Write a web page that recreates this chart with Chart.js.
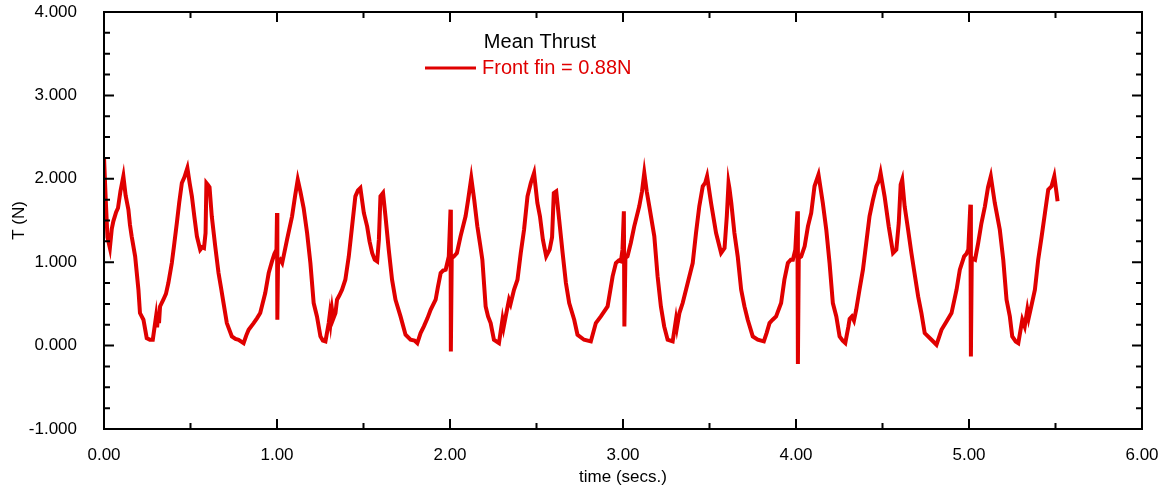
<!DOCTYPE html>
<html>
<head>
<meta charset="utf-8">
<title>Mean Thrust</title>
<script src="https://cdn.jsdelivr.net/npm/chart.js@4.4.1/dist/chart.umd.min.js"></script>
<style>
  html, body { margin: 0; padding: 0; background: #fff; }
  #wrap { width: 1164px; height: 491px; }
</style>
</head>
<body>
<div id="wrap"><canvas id="thrustChart" width="1164" height="491"></canvas></div>
<script>
// ==================== DATA ====================
const timeS = [
  0.000, 0.010, 0.020, 0.034, 0.045, 0.054, 0.070, 0.081, 0.095, 0.112, 0.125, 0.141, 0.150, 0.160, 0.180, 0.199,
  0.208, 0.228, 0.247, 0.265, 0.282, 0.301, 0.307, 0.313, 0.318, 0.324, 0.343, 0.358, 0.372, 0.392, 0.405, 0.421,
  0.435, 0.450, 0.465, 0.482, 0.495, 0.508, 0.522, 0.537, 0.556, 0.567, 0.578, 0.587, 0.592, 0.600, 0.610, 0.623,
  0.643, 0.662, 0.676, 0.691, 0.710, 0.739, 0.760, 0.778, 0.807, 0.822, 0.836, 0.865, 0.885, 0.903, 0.932, 0.952,
  0.971, 0.985, 0.997, 1.000, 1.002, 1.006, 1.019, 1.030, 1.058, 1.087, 1.105, 1.120, 1.135, 1.154, 1.174, 1.193,
  1.212, 1.231, 1.251, 1.265, 1.280, 1.299, 1.305, 1.310, 1.318, 1.325, 1.338, 1.347, 1.360, 1.376, 1.395, 1.415,
  1.434, 1.453, 1.468, 1.482, 1.502, 1.521, 1.535, 1.550, 1.565, 1.579, 1.589, 1.598, 1.613, 1.627, 1.646, 1.665,
  1.685, 1.714, 1.743, 1.772, 1.795, 1.811, 1.830, 1.849, 1.870, 1.888, 1.917, 1.930, 1.946, 1.960, 1.975, 1.993,
  2.003, 2.005, 2.010, 2.023, 2.040, 2.061, 2.090, 2.105, 2.123, 2.140, 2.158, 2.175, 2.187, 2.206, 2.220, 2.235,
  2.254, 2.283, 2.303, 2.310, 2.322, 2.341, 2.350, 2.370, 2.390, 2.409, 2.428, 2.448, 2.467, 2.486, 2.505, 2.520,
  2.537, 2.556, 2.576, 2.590, 2.600, 2.614, 2.631, 2.651, 2.670, 2.689, 2.718, 2.737, 2.775, 2.814, 2.843, 2.872,
  2.911, 2.940, 2.959, 2.975, 2.988, 2.997, 3.005, 3.008, 3.014, 3.026, 3.045, 3.065, 3.094, 3.110, 3.123, 3.137,
  3.152, 3.181, 3.200, 3.219, 3.238, 3.258, 3.287, 3.306, 3.312, 3.326, 3.345, 3.374, 3.403, 3.422, 3.441, 3.461,
  3.475, 3.486, 3.509, 3.538, 3.567, 3.587, 3.600, 3.610, 3.615, 3.626, 3.644, 3.663, 3.683, 3.702, 3.721, 3.750,
  3.779, 3.814, 3.830, 3.847, 3.865, 3.885, 3.914, 3.933, 3.953, 3.970, 3.982, 3.996, 4.008, 4.011, 4.016, 4.030,
  4.050, 4.069, 4.088, 4.107, 4.130, 4.155, 4.175, 4.194, 4.213, 4.233, 4.252, 4.270, 4.285, 4.303, 4.310, 4.323,
  4.335, 4.348, 4.367, 4.387, 4.406, 4.425, 4.445, 4.464, 4.480, 4.489, 4.512, 4.536, 4.561, 4.580, 4.594, 4.605,
  4.614, 4.628, 4.648, 4.667, 4.682, 4.706, 4.725, 4.744, 4.783, 4.812, 4.841, 4.870, 4.899, 4.928, 4.947, 4.972,
  4.985, 4.996, 5.008, 5.011, 5.016, 5.035, 5.053, 5.072, 5.092, 5.110, 5.126, 5.149, 5.178, 5.198, 5.217, 5.236,
  5.250, 5.270, 5.285, 5.308, 5.322, 5.337, 5.345, 5.360, 5.381, 5.400, 5.420, 5.439, 5.458, 5.477, 5.493, 5.506,
  5.512
];
const thrustN = [
  2.26, 1.75, 1.30, 1.17, 1.40, 1.49, 1.60, 1.65, 1.85, 2.03, 1.80, 1.63, 1.45, 1.31, 1.07, 0.67,
  0.39, 0.31, 0.09, 0.07, 0.07, 0.35, 0.22, 0.38, 0.27, 0.47, 0.55, 0.62, 0.75, 0.99, 1.20, 1.47,
  1.72, 1.95, 2.02, 2.13, 1.95, 1.79, 1.55, 1.31, 1.15, 1.18, 1.17, 1.35, 1.95, 1.93, 1.90, 1.55,
  1.19, 0.87, 0.70, 0.51, 0.27, 0.11, 0.08, 0.07, 0.03, 0.12, 0.19, 0.27, 0.33, 0.39, 0.63, 0.87,
  1.01, 1.10, 1.15, 1.59, 0.31, 1.00, 1.03, 0.99, 1.27, 1.55, 1.80, 1.99, 1.85, 1.65, 1.35, 0.99,
  0.51, 0.35, 0.11, 0.06, 0.05, 0.27, 0.37, 0.28, 0.43, 0.32, 0.39, 0.55, 0.60, 0.67, 0.79, 1.07,
  1.43, 1.79, 1.86, 1.89, 1.59, 1.43, 1.25, 1.11, 1.03, 1.01, 1.27, 1.79, 1.83, 1.55, 1.15, 0.79,
  0.55, 0.35, 0.13, 0.07, 0.06, 0.03, 0.15, 0.23, 0.33, 0.43, 0.55, 0.70, 0.87, 0.90, 0.91, 1.07,
  1.63, -0.07, 1.05, 1.07, 1.11, 1.31, 1.55, 1.75, 2.01, 1.75, 1.43, 1.20, 1.03, 0.47, 0.35, 0.27,
  0.07, 0.03, 0.31, 0.22, 0.35, 0.55, 0.50, 0.67, 0.79, 1.11, 1.39, 1.79, 1.95, 2.07, 1.71, 1.55,
  1.27, 1.07, 1.15, 1.30, 1.83, 1.85, 1.51, 1.11, 0.75, 0.51, 0.31, 0.13, 0.07, 0.05, 0.27, 0.35,
  0.47, 0.83, 0.99, 1.02, 1.01, 1.15, 1.61, 0.23, 1.05, 1.07, 1.23, 1.43, 1.67, 1.85, 2.07, 1.85,
  1.67, 1.31, 0.83, 0.47, 0.23, 0.07, 0.05, 0.31, 0.22, 0.39, 0.51, 0.75, 0.99, 1.35, 1.67, 1.91,
  1.95, 2.03, 1.71, 1.35, 1.11, 1.17, 1.55, 1.95, 1.89, 1.71, 1.35, 1.07, 0.67, 0.47, 0.31, 0.11,
  0.07, 0.05, 0.15, 0.27, 0.31, 0.35, 0.51, 0.79, 0.99, 1.03, 1.03, 1.15, 1.61, -0.22, 1.05, 1.07,
  1.19, 1.43, 1.59, 1.91, 2.05, 1.71, 1.39, 0.99, 0.51, 0.35, 0.11, 0.06, 0.03, 0.23, 0.32, 0.35,
  0.30, 0.43, 0.67, 0.91, 1.23, 1.55, 1.75, 1.91, 1.98, 2.07, 1.79, 1.43, 1.11, 1.15, 1.47, 1.93,
  1.99, 1.67, 1.39, 1.11, 0.91, 0.59, 0.39, 0.15, 0.07, 0.01, 0.19, 0.29, 0.39, 0.67, 0.91, 1.07,
  1.10, 1.15, 1.69, -0.13, 1.05, 1.03, 1.23, 1.47, 1.67, 1.90, 2.03, 1.71, 1.39, 1.03, 0.55, 0.35,
  0.11, 0.05, 0.03, 0.31, 0.23, 0.43, 0.33, 0.47, 0.67, 1.03, 1.31, 1.59, 1.87, 1.91, 2.03, 1.83,
  1.73
];
const xTicks = [0, 1, 2, 3, 4, 5, 6];
const yTicks = [-1, 0, 1, 2, 3, 4];
const legendTitle = 'Mean Thrust';
const seriesLabel = 'Front fin = 0.88N';

const RED = '#e00000';
const FONT = "'Liberation Sans', Arial, Helvetica, sans-serif";

// drop the label overflow padding chart.js adds, so the plot box sits where we want it
function noScalePadding(s) {
  s.paddingTop = 0; s.paddingBottom = 0; s.paddingLeft = 0; s.paddingRight = 0;
}

// ==================== FRAME + INWARD TICKS ====================
const frameTicks = {
  id: 'frameTicks',
  afterDatasetsDraw(chart) {
    const { ctx, chartArea: a, scales: { x, y } } = chart;
    ctx.save();
    ctx.strokeStyle = '#000';
    ctx.lineWidth = 2;
    ctx.lineCap = 'butt';
    ctx.beginPath();
    // x ticks: major every 1, minor every 0.5
    for (let v = xTicks[0]; v <= xTicks[xTicks.length - 1] + 1e-9; v += 0.5) {
      const px = x.getPixelForValue(v);
      const len = Number.isInteger(v) ? 10 : 6;
      ctx.moveTo(px, a.bottom); ctx.lineTo(px, a.bottom - len);
      ctx.moveTo(px, a.top); ctx.lineTo(px, a.top + len);
    }
    // y ticks: major every 1, minor every 0.25
    for (let v = yTicks[0]; v <= yTicks[yTicks.length - 1] + 1e-9; v += 0.25) {
      const py = y.getPixelForValue(v);
      const len = Math.abs(v - Math.round(v)) < 1e-9 ? 10 : 6;
      ctx.moveTo(a.left, py); ctx.lineTo(a.left + len, py);
      ctx.moveTo(a.right, py); ctx.lineTo(a.right - len, py);
    }
    ctx.stroke();
    ctx.strokeRect(a.left, a.top, a.right - a.left, a.bottom - a.top);
    ctx.restore();
  }
};

// ==================== LEGEND ====================
const thrustLegend = {
  id: 'thrustLegend',
  afterDraw(chart) {
    const { ctx } = chart;
    ctx.save();
    ctx.font = '20px ' + FONT;
    ctx.textBaseline = 'middle';
    ctx.fillStyle = '#000';
    ctx.textAlign = 'center';
    ctx.fillText(legendTitle, 540, 42);
    ctx.strokeStyle = RED;
    ctx.lineWidth = 3;
    ctx.beginPath();
    ctx.moveTo(425, 68); ctx.lineTo(476, 68);
    ctx.stroke();
    ctx.fillStyle = RED;
    ctx.textAlign = 'left';
    ctx.fillText(seriesLabel, 482, 68);
    ctx.restore();
  }
};

// ==================== CHART ====================
const points = timeS.map((t, i) => ({ x: t, y: thrustN[i] }));

new Chart(document.getElementById('thrustChart'), {
  type: 'line',
  data: {
    datasets: [{
      label: seriesLabel,
      data: points,
      borderColor: RED,
      borderWidth: 4,
      pointRadius: 0,
      tension: 0,
      fill: false
    }]
  },
  options: {
    responsive: false,
    animation: false,
    layout: { padding: { top: 12, right: 22, left: 0, bottom: 0 } },
    plugins: { legend: { display: false }, tooltip: { enabled: false } },
    scales: {
      x: {
        type: 'linear',
        min: xTicks[0],
        max: xTicks[xTicks.length - 1],
        grid: { display: false, drawTicks: false },
        border: { display: false },
        afterFit: s => { s.height = 62; noScalePadding(s); },
        afterBuildTicks: s => { s.ticks = xTicks.map(v => ({ value: v })); },
        ticks: {
          color: '#000',
          font: { family: FONT, size: 17 },
          padding: 16,
          maxRotation: 0,
          callback: v => v.toFixed(2)
        },
        title: {
          display: true,
          text: 'time (secs.)',
          color: '#000',
          font: { family: FONT, size: 17 },
          padding: { top: 0, bottom: 3 }
        }
      },
      y: {
        type: 'linear',
        min: yTicks[0],
        max: yTicks[yTicks.length - 1],
        grid: { display: false, drawTicks: false },
        border: { display: false },
        afterFit: s => { s.width = 104; noScalePadding(s); },
        afterBuildTicks: s => { s.ticks = yTicks.map(v => ({ value: v })); },
        ticks: {
          color: '#000',
          font: { family: FONT, size: 17 },
          padding: 27,
          callback: v => v.toFixed(3)
        },
        title: {
          display: true,
          text: 'T (N)',
          color: '#000',
          font: { family: FONT, size: 17 },
          padding: { top: 9, bottom: 0 }
        }
      }
    }
  },
  plugins: [frameTicks, thrustLegend]
});
</script>
</body>
</html>
